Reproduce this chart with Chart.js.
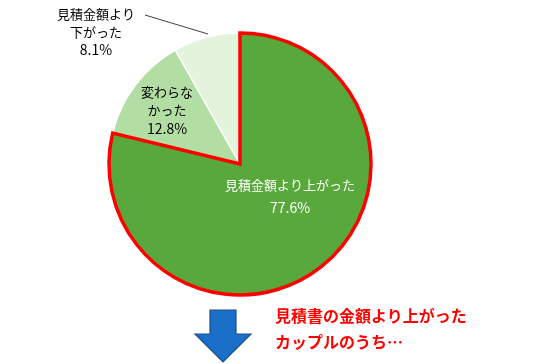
<!DOCTYPE html>
<html lang="ja">
<head>
    <meta charset="UTF-8">
    <title>見積金額との比較</title>
    <script src="https://cdn.jsdelivr.net/npm/chart.js"></script>
    <style>
        * {
            margin: 0;
            padding: 0;
            box-sizing: border-box;
        }

        body {
            background: #fff;
            font-family: "Noto Sans CJK JP", "Noto Sans", sans-serif;
        }

        .wrap {
            position: relative;
            width: 540px;
            height: 364px;
        }

        .note {
            position: absolute;
            left: 275px;
            top: 302px;
            color: #ff0000;
            font-weight: bold;
            font-size: 16px;
            line-height: 26px;
            white-space: nowrap;
        }

        .arrow {
            position: absolute;
            left: 0;
            top: 0;
        }
    </style>
</head>
<body>
    <div class="wrap">
        <canvas id="pie" width="540" height="364"></canvas>
        <svg class="arrow" width="540" height="364">
            <polygon points="210,310 236,310 236,334 251,334 223,362 195,334 210,334"
                     fill="#1a6fc9" stroke="#1d4f8f" stroke-width="1.2" stroke-linejoin="miter"/>
        </svg>
        <div class="note">見積書の金額より上がった<br>カップルのうち…</div>
    </div>

    <script>
        // slices in drawing order (the big one last so its red outline stays on top)
        const labels = ['変わらなかった', '見積金額より下がった', '見積金額より上がった'];
        const values = [12.8, 8.1, 77.6];
        const labelLines = [
            ['変わらな', 'かった', '12.8%'],
            ['見積金額より', '下がった', '8.1%'],
            ['見積金額より上がった', '77.6%']
        ];
        const colors = ['#b3dea3', '#e4f3dc', '#58a83c'];

        const total = values.reduce((a, b) => a + b, 0);
        // big slice starts at 12 o'clock, going clockwise
        const startRot = -(values[0] + values[1]) / total * 360;

        const sliceLabels = {
            id: 'sliceLabels',
            afterDatasetsDraw(chart) {
                const ctx = chart.ctx;
                const arc = chart.getDatasetMeta(0).data[0];
                const cx = arc.x, cy = arc.y;
                // label anchors relative to the pie centre
                const spots = [
                    { dx: -73, dy: -72, lh: 18.5, color: '#000' },
                    { dx: -144, dy: -150, lh: 18, color: '#000' },
                    { dx: 50, dy: 21, lh: 23, color: '#fff' }
                ];
                ctx.save();
                ctx.textAlign = 'center';
                ctx.textBaseline = 'middle';
                labelLines.forEach((lines, i) => {
                    const s = spots[i];
                    ctx.fillStyle = s.color;
                    lines.forEach((t, j) => {
                        // percentages come out a bit wider in the original
                        ctx.font = t.endsWith('%') ? '14px "Noto Sans CJK JP"' : '13px "Noto Sans CJK JP"';
                        ctx.fillText(t, cx + s.dx, cy + s.dy + j * s.lh);
                    });
                });
                // leader line for the small slice
                ctx.strokeStyle = '#404040';
                ctx.lineWidth = 1;
                ctx.beginPath();
                ctx.moveTo(cx - 95, cy - 149);
                ctx.lineTo(cx - 32, cy - 130);
                ctx.stroke();
                ctx.restore();
            }
        };

        new Chart(document.getElementById('pie'), {
            type: 'pie',
            data: {
                labels: labels,
                datasets: [{
                    data: values,
                    backgroundColor: colors,
                    borderColor: ['#ffffff', '#ffffff', '#ff0000'],
                    borderWidth: [1.5, 1.5, 3.5],
                    borderJoinStyle: 'miter'
                }]
            },
            options: {
                responsive: false,
                animation: false,
                rotation: startRot,
                radius: 131,
                layout: {
                    padding: { left: 0, right: 60, top: 0, bottom: 36 }
                },
                plugins: {
                    legend: { display: false },
                    tooltip: { enabled: false }
                }
            },
            plugins: [sliceLabels]
        });
    </script>
</body>
</html>
